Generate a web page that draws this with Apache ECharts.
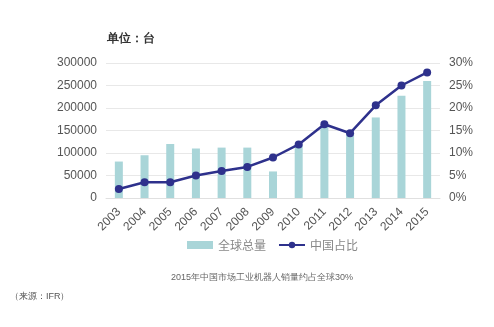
<!DOCTYPE html>
<html><head><meta charset="utf-8">
<script src="https://cdn.jsdelivr.net/npm/echarts@6/dist/echarts.min.js"></script>
<style>html,body{margin:0;padding:0;background:#fff}#c{width:494px;height:327px}</style>
</head><body><div id="c"></div>
<script>
const years = ['2003','2004','2005','2006','2007','2008','2009','2010','2011','2012','2013','2014','2015'];
const globalTotal = [81000,95000,120000,110000,112000,112000,59000,118000,160000,145000,179000,227000,260000];
const chinaShare = [2.0,3.5,3.5,5.0,6.0,6.9,9.0,11.9,16.4,14.4,20.6,25.0,27.9];
const leftTicks = [0,50000,100000,150000,200000,250000,300000];
const rightTicks = [0,5,10,15,20,25,30];

const chart = echarts.init(document.getElementById('c'));
const txt = '#555';
chart.setOption({
  animation:false,
  textStyle:{fontFamily:'"Noto Sans CJK SC", "Liberation Sans", sans-serif'},
  graphic:[
    {type:'text',left:107,top:33,style:{text:'单位：台',fontSize:12,fontWeight:'bold',fill:'#333',font:'bold 12px "Noto Sans CJK SC"'}},
    {type:'text',left:171,top:273,style:{text:'2015年中国市场工业机器人销量约占全球30%',fontSize:9,fill:'#666',font:'9px "Noto Sans CJK SC"'}},
    {type:'text',left:10,top:292,style:{text:'（来源：IFR）',fontSize:9,fill:'#555',font:'9px "Noto Sans CJK SC"'}}
  ],
  grid:{left:106,right:54,top:63,bottom:129},
  legend:{top:234,left:182,itemWidth:26,itemHeight:8,itemGap:12,
    textStyle:{color:'#888',fontSize:12},
    data:[{name:'全球总量',icon:'rect'},{name:'中国占比'}]},
  xAxis:{type:'category',data:years,
    axisLine:{lineStyle:{color:'#e0e0e0'}},axisTick:{show:false},
    axisLabel:{rotate:45,color:txt,fontSize:12,interval:0,margin:12,fontFamily:'Liberation Sans'}},
  yAxis:[
    {type:'value',min:0,max:300000,interval:50000,
      axisLabel:{color:txt,fontSize:12,margin:9,formatter:v=>String(v),fontFamily:'Liberation Sans'},
      splitLine:{lineStyle:{color:'#e8e8e8'}},axisLine:{show:false},axisTick:{show:false}},
    {type:'value',min:0,max:30,interval:5,
      axisLabel:{color:txt,fontSize:12,margin:9,formatter:'{value}%',fontFamily:'Liberation Sans'},
      splitLine:{show:false},axisLine:{show:false},axisTick:{show:false}}
  ],
  series:[
    {name:'全球总量',type:'bar',data:globalTotal,barWidth:8,itemStyle:{color:'#a9d5d8'}},
    {name:'中国占比',type:'line',yAxisIndex:1,data:chinaShare,symbol:'circle',symbolSize:8,
      lineStyle:{color:'#2e318c',width:2.5},itemStyle:{color:'#2e318c'}}
  ]
});
</script></body></html>
